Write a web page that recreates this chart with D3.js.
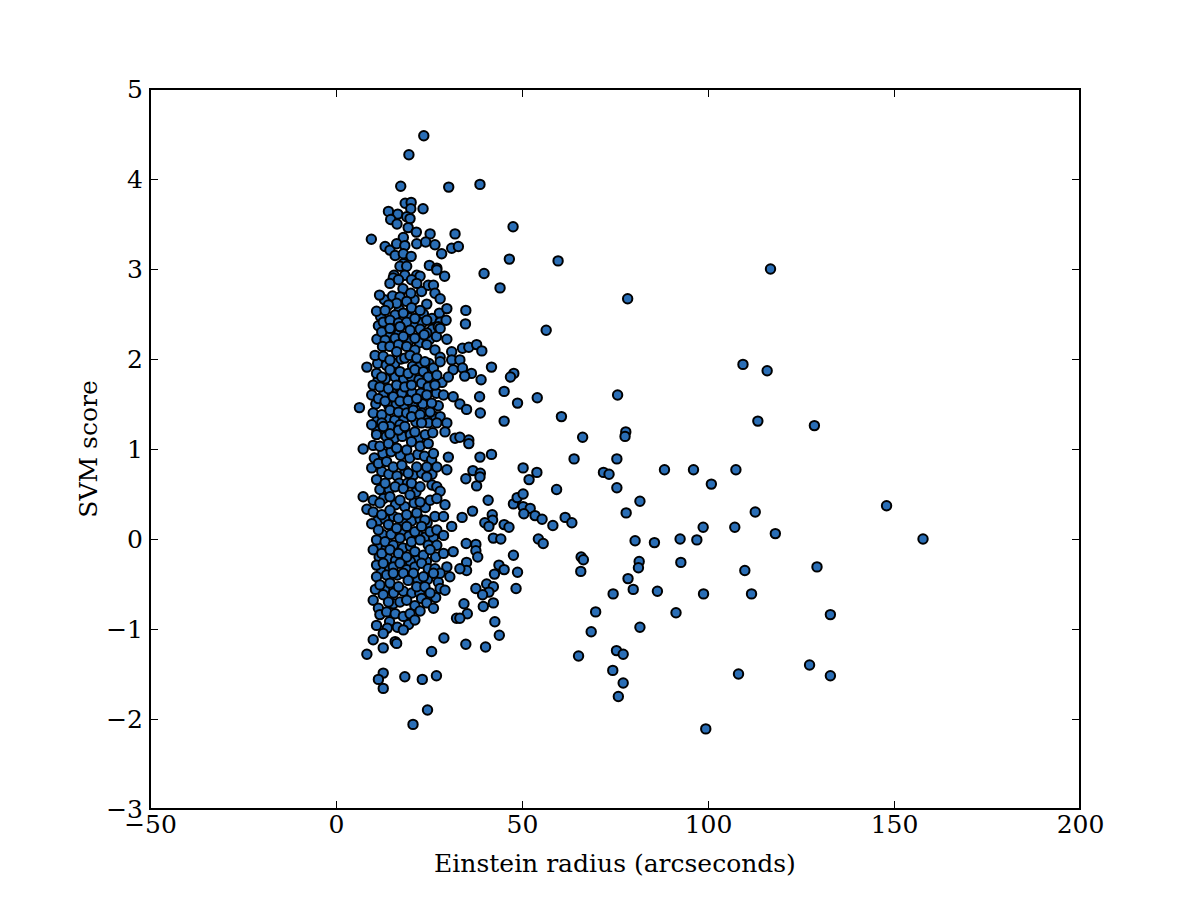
<!DOCTYPE html>
<html>
<head>
<meta charset="utf-8">
<script src="https://cdn.jsdelivr.net/npm/d3@7"></script>
<style>
  body { margin: 0; background: #fff; }
  svg { display: block; }
  .axis text { font-family: "DejaVu Serif", serif; font-size: 25px; fill: #000; }
  .axis line { stroke: #000; stroke-width: 1; }
  .axis path { display: none; }
  .label { font-family: "DejaVu Serif", serif; font-size: 25px; fill: #000; }
</style>
</head>
<body>
<svg width="1200" height="900"></svg>
<script>
var xTicks = [-50, 0, 50, 100, 150, 200];
var yTicks = [-3, -2, -1, 0, 1, 2, 3, 4, 5];
var xLabel = "Einstein radius (arcseconds)";
var yLabel = "SVM score";

// [einstein radius, svm score] -- the crowded part, radius < ~33
var clusterPoints = [
  [23.6,4.48],[19.6,4.27],[17.4,3.92],[30.3,3.91],[18.6,3.73],[20.2,3.74],[20.1,3.67],[23.4,3.67],
  [14.1,3.64],[16.6,3.61],[14.7,3.55],[19.0,3.58],[19.9,3.56],[16.4,3.50],[19.4,3.46],[21.6,3.41],
  [25.3,3.39],[32.0,3.39],[9.5,3.33],[18.1,3.35],[13.2,3.25],[14.5,3.21],[16.3,3.28],[18.5,3.26],
  [21.7,3.28],[24.1,3.30],[26.6,3.27],[28.4,3.17],[31.1,3.23],[32.9,3.25],[15.9,3.15],[18.1,3.17],
  [20.2,3.14],[18.1,3.06],[17.2,3.03],[19.0,3.03],[25.1,3.04],[27.1,3.01],[29.2,2.92],[15.6,2.93],
  [18.5,2.93],[21.7,2.93],
  [27.1,2.99],[22.6,2.92],[15.4,2.90],[14.5,2.84],[16.8,2.88],[20.3,2.88],[21.7,2.84],[11.7,2.71],
  [17.2,2.69],[20.1,2.73],[19.0,2.64],[16.3,2.62],[14.1,2.60],[24.8,2.82],[26.2,2.82],[26.6,2.73],
  [28.0,2.67],[24.4,2.61],[10.9,2.53],[13.2,2.54],[15.9,2.49],[18.1,2.51],[20.3,2.57],[22.6,2.54],
  [27.8,2.51],[29.8,2.56],[12.7,2.41],[14.5,2.43],[16.8,2.40],[19.0,2.41],[21.2,2.45],[24.4,2.43],
  [28.0,2.41],[29.6,2.43],[12.3,2.30],[14.5,2.34],[17.2,2.36],[19.9,2.32],[22.6,2.33],[24.4,2.29],
  [27.5,2.36],[28.0,2.34],[13.2,2.21],[15.9,2.23],[18.1,2.25],[21.2,2.23],[23.7,2.27],[29.8,2.22],
  [12.5,2.14],[14.5,2.14],[16.8,2.16],[19.0,2.14],[21.2,2.10],[24.4,2.16],[26.6,2.10],[28.0,2.02],
  [31.1,2.08],[8.3,1.91],[10.5,2.04],[12.7,2.03],[14.5,1.99],[16.3,2.08],[18.5,2.01],[19.9,2.04],
  [21.7,2.01],[23.9,1.97],[26.2,1.90],[28.0,1.97],[31.1,1.99],[31.5,1.88],[10.9,1.84],[12.3,1.80],
  [14.5,1.88],[17.2,1.86],[19.4,1.84],[21.2,1.88],[23.5,1.86],[24.8,1.80],[27.1,1.82],[30.2,1.80],
  [10.0,1.71],[11.8,1.69],[14.1,1.67],[16.3,1.71],[18.5,1.69],[20.3,1.71],[23.0,1.73],[24.8,1.69],
  [26.6,1.71],[28.9,1.60],[31.5,1.58],[6.3,1.46],[9.6,1.60],[11.4,1.56],[13.2,1.53],[15.4,1.58],
  [17.2,1.53],[19.4,1.54],[21.7,1.56],[24.4,1.60],[25.7,1.51],[10.0,1.40],[12.3,1.38],[14.5,1.43],
  [16.8,1.41],[19.0,1.40],[20.8,1.43],[23.0,1.40],[25.3,1.41],[28.0,1.36],[29.8,1.29],[9.6,1.27],
  [12.3,1.29],[14.5,1.25],[17.2,1.27],[20.3,1.36],[22.6,1.38],[24.8,1.29],
  [7.3,1.00],[10.9,1.16],[12.7,1.25],[14.5,1.17],[16.8,1.21],[18.5,1.25],[21.2,1.19],[23.0,1.29],
  [27.1,1.29],[29.3,1.19],[32.0,1.12],[10.0,1.04],[11.8,1.03],[14.1,1.06],[16.3,1.01],[19.0,0.99],
  [20.3,1.08],[22.6,1.03],[24.8,1.06],[26.2,0.95],[30.2,0.91],[29.8,0.77],[9.6,0.79],[11.4,0.84],
  [13.6,0.86],[15.4,0.80],[17.7,0.82],[19.4,0.73],[21.7,0.80],[24.4,0.80],[27.1,0.80],[10.9,0.66],
  [13.2,0.62],[15.9,0.58],[18.1,0.56],[20.3,0.62],[22.6,0.58],[24.4,0.69],[27.1,0.58],[28.0,0.53],
  [7.3,0.47],[8.3,0.33],[10.0,0.43],[11.8,0.40],[14.5,0.47],[17.2,0.43],[19.9,0.49],[22.6,0.41],
  [25.3,0.43],[27.1,0.45],[29.3,0.38],[10.0,0.30],[12.3,0.27],[14.5,0.32],[16.8,0.23],[19.0,0.27],
  [21.7,0.29],[23.9,0.21],[26.6,0.25],[28.9,0.25],[31.1,0.14],[9.6,0.17],[11.4,0.10],[14.1,0.16],
  [16.3,0.12],[19.0,0.14],[21.2,0.08],[23.0,0.14],[25.3,0.08],[27.1,0.10],[28.9,0.04],[10.9,-0.01],
  [13.2,-0.03],[15.4,-0.07],[17.2,0.01],[20.3,-0.03],[22.6,-0.01],[24.8,-0.07],[27.1,-0.07],[31.5,-0.14],
  [10.0,-0.12],[12.3,-0.16],[14.5,-0.12],[16.8,-0.16],[19.0,-0.20],[21.2,-0.14],[23.5,-0.18],[25.3,-0.12],
  [28.9,-0.16],[29.8,-0.31],[10.9,-0.29],[12.7,-0.27],[15.4,-0.31],[17.2,-0.27],[19.0,-0.34],[21.2,-0.31],
  [23.0,-0.27],[24.8,-0.33],[26.6,-0.33],[28.0,-0.38],[30.6,-0.42],[10.9,-0.42],[13.6,-0.40],[15.4,-0.38],
  [18.1,-0.38],[20.8,-0.38],[23.5,-0.42],[26.2,-0.38],
  [11.8,-0.51],[14.5,-0.49],[16.8,-0.53],[19.4,-0.46],[21.7,-0.53],[23.9,-0.53],[25.3,-0.60],[28.0,-0.55],
  [29.3,-0.57],[10.0,-0.68],[12.7,-0.62],[14.1,-0.70],[17.2,-0.70],[19.0,-0.68],[23.0,-0.66],[24.4,-0.71],
  [26.2,-0.77],[11.4,-0.77],[11.8,-0.84],[13.6,-0.81],[15.9,-0.83],[18.1,-0.86],[19.9,-0.83],[21.2,-0.90],
  [10.9,-0.96],[12.7,-1.05],[18.1,-1.01],[10.0,-1.12],[12.7,-1.21],[15.9,-1.14],[16.3,-1.16],[8.3,-1.28],
  [25.7,-1.25],[29.0,-1.10],[32.4,-0.88],[12.7,-1.49],[11.4,-1.56],[12.7,-1.66],[18.5,-1.53],[23.2,-1.56],
  [27.0,-1.52],[24.6,-1.90],[20.7,-2.06]
];

// overlapped circles inside the crowded part, read where they show through
var clusterHidden = [
  [13.0,2.66],[15.2,2.70],[18.0,2.78],[21.0,2.66],[23.0,2.75],[12.0,2.47],[17.0,2.55],[19.6,2.46],
  [23.5,2.50],[25.8,2.45],[11.4,2.37],[15.5,2.30],[20.8,2.38],[23.2,2.40],[25.9,2.33],[11.0,2.22],
  [14.4,2.25],[16.9,2.28],[19.6,2.20],[22.4,2.18],[25.2,2.22],[27.0,2.25],
  [11.2,1.95],[13.5,1.93],[15.8,1.95],[17.5,2.00],[20.6,1.92],[22.8,1.94],[25.0,1.95],[11.3,1.76],
  [13.3,1.78],[15.9,1.80],[18.2,1.78],[20.2,1.80],[22.3,1.77],[26.0,1.77],[28.5,1.74],[12.9,1.62],
  [15.0,1.63],[17.7,1.62],[20.4,1.63],[22.8,1.62],[27.0,1.62],[10.7,1.50],[14.2,1.48],[16.2,1.50],
  [18.4,1.47],[20.6,1.49],[23.3,1.50],[27.5,1.48],[11.2,1.33],[13.6,1.34],[15.8,1.32],[18.3,1.34],
  [21.5,1.30],[24.0,1.33],[26.7,1.36],
  [11.0,1.20],[13.5,1.14],[15.7,1.12],[17.8,1.14],[20.0,1.16],[22.2,1.12],[24.0,1.16],[26.0,1.18],
  [12.6,0.95],[14.8,0.97],[17.3,0.93],[19.8,0.90],[22.0,0.94],[23.8,0.92],[25.7,0.88],[10.3,0.90],
  [12.3,0.75],[14.2,0.72],[16.4,0.70],[18.6,0.76],[20.8,0.71],[23.0,0.73],[25.8,0.72],[11.8,0.55],
  [14.3,0.55],[17.0,0.62],[19.2,0.62],[21.5,0.52],[25.8,0.60],
  [12.8,0.45],[16.0,0.38],[18.5,0.36],[21.0,0.40],[24.0,0.35],[11.2,0.20],[13.2,0.22],[15.5,0.25],
  [17.8,0.20],[20.3,0.20],[22.6,0.22],[24.5,0.18],[12.5,0.05],[14.8,0.05],[18.0,0.07],[19.6,0.03],
  [22.0,0.05],[24.0,0.02],[26.2,0.02],[11.6,-0.08],[13.5,-0.10],[18.0,-0.10],[20.0,-0.08],[22.0,-0.22],
  [24.3,-0.25],[26.8,-0.20],[11.6,-0.20],[14.0,-0.22],[16.0,-0.24],[18.0,-0.26],[20.0,-0.25],[12.2,-0.36],
  [14.4,-0.33],[16.5,-0.40],[19.5,-0.44],[22.0,-0.45],[24.6,-0.45],[27.5,-0.48],
  [10.6,-0.56],[13.1,-0.56],[15.5,-0.60],[18.1,-0.58],[20.4,-0.60],[22.5,-0.60],[26.8,-0.65],[15.4,-0.72],
  [21.2,-0.74],[22.6,-0.80],[14.4,-0.92],[16.5,-0.98],[19.5,-0.95],[13.8,-0.99]
];

// the sparse tail, radius > ~33
var tailPoints = [
  [38.7,3.94],[47.6,3.47],
  [46.6,3.11],[59.7,3.09],[39.8,2.95],[44.1,2.79],[78.4,2.67],[34.9,2.54],[34.8,2.39],[56.5,2.32],
  [34.0,2.12],[35.7,2.13],[37.8,2.16],[39.2,2.09],[33.3,1.99],[34.0,1.90],[36.4,1.84],[34.6,1.81],
  [41.8,1.91],[47.8,1.84],[46.9,1.80],[39.0,1.77],[45.2,1.64],[54.1,1.57],[48.8,1.51],[75.7,1.60],
  [33.3,1.50],[35.1,1.44],[38.6,1.58],[38.8,1.40],[45.2,1.31],[60.6,1.36],[66.3,1.13],[77.9,1.19],
  [77.7,1.14],[35.7,1.10],[35.7,1.06],[33.3,1.13],[38.7,0.91],[41.8,0.94],[64.0,0.89],[75.5,0.89],
  [50.3,0.79],[54.0,0.74],[51.9,0.66],[71.9,0.74],[73.4,0.72],[88.3,0.77],[96.1,0.77],[100.9,0.61],
  [36.8,0.76],[38.8,0.73],[34.9,0.67],[37.8,0.59],[38.7,0.69],[59.3,0.55],[75.5,0.57],
  [40.9,0.43],[36.7,0.31],[33.9,0.24],[42.0,0.27],[42.1,0.21],[40.0,0.18],[41.1,0.14],[47.7,0.39],
  [48.7,0.46],[50.3,0.50],[50.3,0.36],[52.2,0.34],[50.5,0.28],[53.5,0.26],[55.4,0.22],[45.2,0.16],
  [46.5,0.13],[58.3,0.15],[61.6,0.24],[63.4,0.18],[81.7,0.42],[78.0,0.29],[98.7,0.13],[35.0,-0.05],
  [37.6,-0.06],[37.6,-0.13],[38.1,-0.20],[42.3,0.01],[44.3,0.00],[54.4,0.00],[55.7,-0.05],[47.7,-0.18],
  [80.4,-0.02],[85.6,-0.04],[92.5,0.00],[97.0,-0.01],[35.1,-0.26],[35.1,-0.35],[33.3,-0.33],[43.8,-0.29],
  [42.6,-0.39],[45.2,-0.34],[48.8,-0.37],[65.9,-0.20],[66.5,-0.23],[65.8,-0.36],[81.5,-0.25],[81.3,-0.32],
  [92.7,-0.26],[37.6,-0.55],[40.5,-0.50],[42.3,-0.53],[41.1,-0.59],[39.4,-0.62],[48.4,-0.55],[34.4,-0.72],
  [35.3,-0.83],[39.6,-0.75],[42.3,-0.71],[33.3,-0.88],[42.7,-0.92],[43.9,-1.07],[34.9,-1.17],[40.2,-1.20],
  [78.5,-0.44],[79.9,-0.56],[74.5,-0.61],[86.4,-0.58],[98.8,-0.61],[91.4,-0.82],[69.8,-0.81],[68.6,-1.03],
  [81.7,-0.98],[65.2,-1.30],[75.4,-1.24],[77.2,-1.28],[74.4,-1.46],[77.2,-1.60],[75.9,-1.75],[99.4,-2.11],
  [116.8,3.00],[109.4,1.94],[115.9,1.87],[113.4,1.31],[128.6,1.26],[107.5,0.77],[148.0,0.37],[112.7,0.30],
  [107.2,0.13],[118.1,0.06],[157.8,0.00],[109.9,-0.35],[129.3,-0.31],[111.7,-0.61],[132.9,-0.84],[108.2,-1.50],
  [127.3,-1.40],[132.9,-1.52]
];

var svg = d3.select("svg");
var margin = {top: 89, right: 120, bottom: 91, left: 150};
var width = svg.attr("width") - margin.left - margin.right;
var height = svg.attr("height") - margin.top - margin.bottom;
var g = svg.append("g").attr("transform", "translate(" + margin.left + "," + margin.top + ")");

var x = d3.scaleLinear().domain([-50, 200]).range([0, width]);
var y = d3.scaleLinear().domain([-3, 5]).range([height, 0]);

var tick = 8;

g.append("g")
    .attr("class", "axis axis--x")
    .attr("transform", "translate(0," + height + ")")
    .call(d3.axisBottom(x).tickValues(xTicks).tickSizeInner(-tick).tickSizeOuter(0).tickPadding(6));

g.append("g")
    .attr("class", "axis axis--x2")
    .call(d3.axisTop(x).tickValues(xTicks).tickSizeInner(-tick).tickSizeOuter(0).tickFormat(""));

g.append("g")
    .attr("class", "axis axis--y")
    .call(d3.axisLeft(y).tickValues(yTicks).tickSizeInner(-tick).tickSizeOuter(0).tickPadding(7));

g.append("g")
    .attr("class", "axis axis--y2")
    .attr("transform", "translate(" + width + ",0)")
    .call(d3.axisRight(y).tickValues(yTicks).tickSizeInner(-tick).tickSizeOuter(0).tickFormat(""));

var points = clusterHidden.concat(clusterPoints, tailPoints);

g.append("g")
    .selectAll("circle")
    .data(points)
    .enter()
    .append("circle")
      .attr("cx", function(d) { return x(d[0]); })
      .attr("cy", function(d) { return y(d[1]); })
      .attr("r", 4.7)
      .style("fill", "#2a6eb6")
      .style("stroke", "#000")
      .style("stroke-width", 2);

g.append("rect")
    .attr("width", width)
    .attr("height", height)
    .style("fill", "none")
    .style("stroke", "#000")
    .style("stroke-width", 2);

g.append("text")
    .attr("class", "label")
    .attr("x", width / 2)
    .attr("y", height + 63)
    .attr("text-anchor", "middle")
    .text(xLabel);

g.append("text")
    .attr("class", "label")
    .attr("transform", "translate(-53," + (height / 2) + ") rotate(-90)")
    .attr("text-anchor", "middle")
    .text(yLabel);
</script>
</body>
</html>
